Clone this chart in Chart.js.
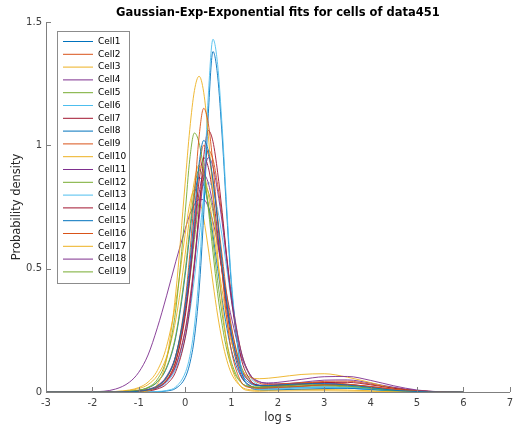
<!DOCTYPE html>
<html><head><meta charset="utf-8">
<script src="https://cdn.jsdelivr.net/npm/chart.js@4.4.0/dist/chart.umd.min.js"></script>
<style>html,body{margin:0;padding:0;background:#fff;}#wrap{width:518px;height:429px;}</style>
</head><body><div id="wrap"><canvas id="c" width="518" height="429"></canvas></div>
<script>
const chartTitle = 'Gaussian-Exp-Exponential fits for cells of data451';
const xLabel = 'log s';
const yLabel = 'Probability density';
const xGrid = [-3,-2,-1.5,-1.2,-1,-0.8,-0.6,-0.4,-0.2,0,0.1,0.2,0.3,0.4,0.5,0.6,0.7,0.8,0.9,1.0,1.2,1.4,1.6,1.8,2,2.5,3,3.5,4,4.5,5,5.5,6];
const cellNames = ['Cell1','Cell2','Cell3','Cell4','Cell5','Cell6','Cell7','Cell8','Cell9','Cell10','Cell11','Cell12','Cell13','Cell14','Cell15','Cell16','Cell17','Cell18','Cell19'];
const cell1  = [0,0,0,0.001,0.003,0.009,0.023,0.059,0.148,0.351,0.518,0.724,0.924,1.02,0.977,0.858,0.691,0.521,0.359,0.231,0.083,0.035,0.026,0.026,0.028,0.033,0.034,0.028,0.018,0.007,0.002,0,0];
const cell2  = [0,0,0,0.001,0.003,0.008,0.021,0.056,0.148,0.369,0.558,0.796,1.034,1.15,1.088,0.921,0.698,0.479,0.294,0.164,0.044,0.018,0.015,0.017,0.018,0.023,0.029,0.029,0.022,0.011,0.004,0.001,0];
const cell3  = [0,0,0,0,0.001,0.005,0.031,0.134,0.406,0.847,1.065,1.222,1.28,1.215,1.039,0.801,0.557,0.349,0.198,0.102,0.022,0.005,0.003,0.004,0.004,0.005,0.005,0.004,0.003,0.001,0,0,0];
const cell4  = [0,0,0,0.001,0.003,0.007,0.018,0.044,0.106,0.245,0.362,0.517,0.699,0.870,0.95,0.914,0.814,0.685,0.528,0.382,0.168,0.071,0.041,0.037,0.039,0.051,0.062,0.063,0.047,0.025,0.008,0.001,0];
const cell5  = [0,0,0.001,0.003,0.007,0.019,0.051,0.135,0.337,0.727,0.944,1.05,1.010,0.900,0.742,0.566,0.400,0.270,0.170,0.103,0.039,0.023,0.021,0.022,0.024,0.029,0.029,0.024,0.015,0.006,0.002,0,0];
const cell6  = [0,0,0,0,0,0,0.002,0.006,0.021,0.077,0.144,0.267,0.479,0.807,1.204,1.43,1.328,1.068,0.740,0.444,0.108,0.022,0.011,0.011,0.012,0.016,0.019,0.019,0.014,0.008,0.002,0,0];
const cell7  = [0,0,0,0.001,0.002,0.004,0.012,0.032,0.084,0.218,0.340,0.514,0.734,0.953,1.06,1.015,0.891,0.727,0.541,0.371,0.142,0.050,0.026,0.023,0.024,0.031,0.038,0.039,0.029,0.015,0.005,0.001,0];
const cell8  = [0,0,0,0,0,0,0.001,0.004,0.015,0.058,0.115,0.22,0.41,0.72,1.13,1.38,1.282,1.030,0.713,0.427,0.102,0.019,0.009,0.008,0.009,0.012,0.014,0.015,0.011,0.006,0.002,0,0];
const cell9  = [0,0,0,0.001,0.003,0.008,0.019,0.046,0.110,0.253,0.373,0.533,0.721,0.898,0.98,0.943,0.840,0.705,0.543,0.391,0.170,0.068,0.036,0.031,0.032,0.038,0.039,0.032,0.020,0.008,0.002,0,0];
const cell10 = [0,0,0.002,0.006,0.014,0.030,0.067,0.143,0.295,0.558,0.717,0.857,0.92,0.889,0.801,0.673,0.529,0.410,0.293,0.202,0.097,0.060,0.054,0.056,0.060,0.071,0.074,0.060,0.038,0.015,0.005,0.001,0];
const cell11 = [0,0,0.001,0.002,0.004,0.011,0.026,0.064,0.150,0.335,0.479,0.648,0.806,0.88,0.847,0.754,0.622,0.484,0.348,0.234,0.094,0.041,0.028,0.028,0.030,0.039,0.048,0.049,0.036,0.019,0.006,0.001,0];
const cell12 = [0,0,0.001,0.003,0.007,0.017,0.042,0.101,0.232,0.490,0.662,0.824,0.9,0.862,0.757,0.610,0.451,0.313,0.200,0.119,0.041,0.020,0.018,0.019,0.020,0.024,0.025,0.020,0.013,0.005,0.002,0,0];
const cell13 = [0,0,0,0.001,0.003,0.007,0.016,0.040,0.095,0.219,0.324,0.462,0.626,0.779,0.85,0.821,0.740,0.628,0.497,0.367,0.167,0.063,0.027,0.017,0.017,0.019,0.020,0.016,0.010,0.004,0.001,0,0];
const cell14 = [0,0,0,0.001,0.002,0.006,0.017,0.046,0.123,0.305,0.461,0.657,0.854,0.95,0.910,0.799,0.644,0.482,0.330,0.209,0.071,0.026,0.017,0.017,0.018,0.023,0.029,0.029,0.022,0.011,0.004,0.001,0];
const cell15 = [0,0,0.001,0.003,0.007,0.017,0.040,0.097,0.224,0.473,0.640,0.797,0.87,0.840,0.758,0.637,0.500,0.372,0.258,0.168,0.064,0.025,0.016,0.015,0.016,0.019,0.020,0.016,0.010,0.004,0.001,0,0];
const cell16 = [0,0,0,0.001,0.003,0.007,0.018,0.049,0.129,0.321,0.485,0.692,0.899,1.0,0.962,0.857,0.707,0.548,0.392,0.263,0.102,0.041,0.026,0.025,0.027,0.035,0.043,0.044,0.032,0.017,0.005,0.001,0];
const cell17 = [0,0,0.002,0.008,0.018,0.040,0.087,0.185,0.367,0.639,0.764,0.82,0.789,0.703,0.580,0.442,0.312,0.207,0.128,0.074,0.023,0.009,0.007,0.007,0.008,0.010,0.010,0.008,0.005,0.002,0.001,0,0];
const cell18 = [0,0.001,0.012,0.04,0.08,0.15,0.26,0.39,0.53,0.66,0.72,0.76,0.78,0.78,0.75,0.69,0.60,0.49,0.39,0.30,0.15,0.07,0.042,0.034,0.033,0.035,0.036,0.031,0.020,0.009,0.003,0,0];
const cell19 = [0,0,0.001,0.002,0.004,0.010,0.025,0.061,0.144,0.320,0.457,0.618,0.769,0.84,0.811,0.732,0.615,0.492,0.365,0.255,0.108,0.045,0.026,0.023,0.024,0.029,0.029,0.024,0.015,0.006,0.002,0,0];
const seriesValues = [cell1,cell2,cell3,cell4,cell5,cell6,cell7,cell8,cell9,cell10,cell11,cell12,cell13,cell14,cell15,cell16,cell17,cell18,cell19];
const palette = ['#0072BD','#D95319','#EDB120','#7E2F8E','#77AC30','#4DBEEE','#A2142F'];
const xTicks = [-3,-2,-1,0,1,2,3,4,5,6,7];
const yTicks = [0,0.5,1,1.5];

const F = '"DejaVu Sans", sans-serif';
const datasets = seriesValues.map((ys, i) => ({
  label: cellNames[i],
  data: xGrid.map((x, j) => ({x: x, y: ys[j]})),
  borderColor: palette[i % palette.length],
  borderWidth: 0.9,
  pointRadius: 0,
  fill: false,
  cubicInterpolationMode: 'monotone'
}));

const deco = {
  id: 'deco',
  afterDraw(chart) {
    const c = chart.ctx, xs = chart.scales.x, ys = chart.scales.y, a = chart.chartArea;
    c.save();
    c.strokeStyle = '#7f7f7f'; c.lineWidth = 1;
    c.beginPath();
    xTicks.forEach(v => { const p = Math.round(xs.getPixelForValue(v)) + 0.5; c.moveTo(p, a.bottom); c.lineTo(p, a.bottom - 5); });
    yTicks.forEach(v => { const p = Math.round(ys.getPixelForValue(v)) + 0.5; c.moveTo(a.left, p); c.lineTo(a.left + 5, p); });
    c.stroke();
    c.fillStyle = '#000';
    c.font = 'bold 11.5px ' + F;
    c.textAlign = 'center'; c.textBaseline = 'middle';
    c.fillText(chartTitle, (a.left + a.right) / 2, 13.5);
    const bx = 57.5, by = 31.5, bw = 72, bh = 252, step = 12.8, y0 = 41.5;
    c.fillStyle = '#fff'; c.fillRect(bx, by, bw, bh);
    c.strokeStyle = '#8c8c8c'; c.lineWidth = 1; c.strokeRect(bx, by, bw, bh);
    c.font = '9px ' + F; c.textAlign = 'left'; c.textBaseline = 'middle';
    chart.data.datasets.forEach((d, i) => {
      const y = y0 + i * step;
      c.strokeStyle = d.borderColor; c.lineWidth = 1;
      c.beginPath(); c.moveTo(63, y); c.lineTo(93, y); c.stroke();
      c.fillStyle = '#000'; c.fillText(d.label, 98, y);
    });
    c.restore();
  }
};

new Chart(document.getElementById('c').getContext('2d'), {
  type: 'line',
  data: { datasets },
  options: {
    responsive: false, animation: false, devicePixelRatio: 1,
    layout: { padding: { top: 22, right: 4, left: 0, bottom: 0 } },
    plugins: { legend: { display: false }, title: { display: false }, tooltip: { enabled: false } },
    scales: {
      x: {
        type: 'linear', min: -3, max: 7,
        afterBuildTicks(s) { s.ticks = xTicks.map(v => ({ value: v })); },
        ticks: { font: { family: F, size: 10 }, color: '#404040', padding: 5, maxRotation: 0, autoSkip: false, callback: v => String(v) },
        grid: { display: true, drawOnChartArea: false, drawTicks: false },
        border: { display: true, color: '#7f7f7f', width: 1 },
        title: { display: true, text: xLabel, font: { family: F, size: 11.5 }, color: '#262626', padding: { top: 0, bottom: 4 } },
        afterFit(s) { s.height = 37; }
      },
      y: {
        type: 'linear', min: 0, max: 1.5,
        afterBuildTicks(s) { s.ticks = yTicks.map(v => ({ value: v })); },
        ticks: { font: { family: F, size: 10 }, color: '#404040', padding: 4, callback: v => String(v) },
        grid: { display: true, drawOnChartArea: false, drawTicks: false },
        border: { display: true, color: '#7f7f7f', width: 1 },
        title: { display: true, text: yLabel, font: { family: F, size: 11.5 }, color: '#262626', padding: { top: 10, bottom: 0 } },
        afterFit(s) { s.width = 46; }
      }
    }
  },
  plugins: [deco]
});
</script></body></html>
